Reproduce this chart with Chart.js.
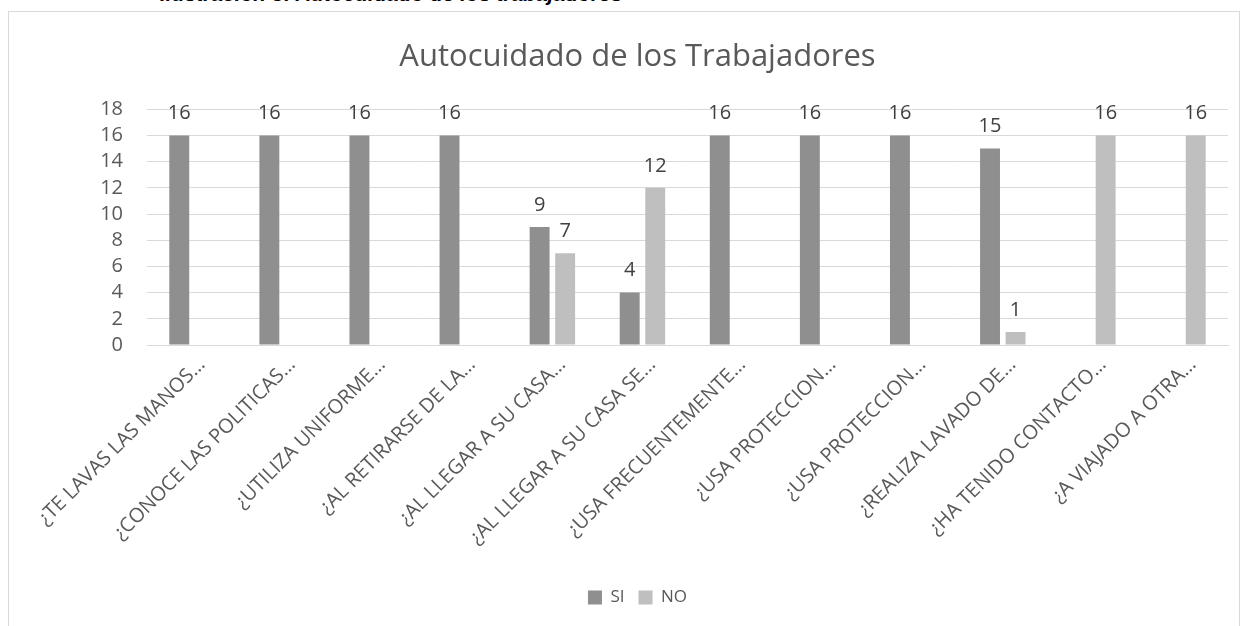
<!DOCTYPE html>
<html>
<head>
<meta charset="utf-8">
<script src="https://cdn.jsdelivr.net/npm/chart.js@4.4.0/dist/chart.umd.min.js"></script>
<style>
  html, body { margin: 0; padding: 0; background: #ffffff; width: 1246px; height: 626px; overflow: hidden; position: relative; }
  #caption { position: absolute; left: 160px; top: -18px; font-family: "Liberation Sans", Arial, sans-serif; font-weight: bold; font-style: italic; font-size: 21px; color: #000; white-space: nowrap; }
  #box { position: absolute; left: 8px; top: 11px; width: 1232px; height: 640px; border: 1px solid #d9d9d9; box-sizing: border-box; background: #fff; }
  #wrap { position: absolute; left: 0; top: 0; width: 1230px; height: 614px; }
</style>
</head>
<body>
<div id="caption">Ilustración 3: Autocuidado de los trabajadores</div>
<div id="box"><div id="wrap"><canvas id="c"></canvas></div></div>
<script>
const chartTitle = "Autocuidado de los Trabajadores";
const categories = [
  "¿TE LAVAS LAS MANOS…",
  "¿CONOCE LAS POLITICAS…",
  "¿UTILIZA UNIFORME…",
  "¿AL RETIRARSE DE LA…",
  "¿AL LLEGAR A SU CASA…",
  "¿AL LLEGAR A SU CASA SE…",
  "¿USA FRECUENTEMENTE…",
  "¿USA PROTECCION…",
  "¿USA PROTECCION…",
  "¿REALIZA LAVADO DE…",
  "¿HA TENIDO CONTACTO…",
  "¿A VIAJADO A OTRA…"
];
const seriesNames = ["SI", "NO"];
const siValues = [16, 16, 16, 16, 9, 4, 16, 16, 16, 15, null, null];
const noValues = [null, null, null, null, 7, 12, null, null, null, 1, 16, 16];
const yTicks = [0, 2, 4, 6, 8, 10, 12, 14, 16, 18];

const valueLabels = {
  id: 'valueLabels',
  afterDatasetsDraw(chart) {
    const ctx = chart.ctx;
    ctx.save();
    ctx.font = '20px "Open Sans", sans-serif';
    ctx.fillStyle = '#404040';
    ctx.textAlign = 'center';
    ctx.textBaseline = 'bottom';
    chart.data.datasets.forEach((ds, i) => {
      const meta = chart.getDatasetMeta(i);
      meta.data.forEach((el, j) => {
        const v = ds.data[j];
        if (v === null || v === undefined) return;
        ctx.fillText(String(v), el.x, el.y - 12);
      });
    });
    ctx.restore();
  }
};

new Chart(document.getElementById('c'), {
  type: 'bar',
  data: {
    labels: categories,
    datasets: [
      { label: seriesNames[0], data: siValues, backgroundColor: '#8f8f8f' },
      { label: seriesNames[1], data: noValues, backgroundColor: '#bfbfbf' }
    ]
  },
  options: {
    responsive: true,
    maintainAspectRatio: false,
    animation: false,
    categoryPercentage: 0.567,
    barPercentage: 0.78,
    layout: { padding: { left: 38, right: 11, top: 0, bottom: 10 } },
    plugins: {
      title: {
        display: true, text: chartTitle, color: '#595959',
        font: { family: '"Open Sans", sans-serif', size: 31, weight: 'normal' },
        padding: { top: 27, bottom: 33 }
      },
      legend: {
        position: 'bottom',
        labels: {
          color: '#595959', boxWidth: 14, boxHeight: 14, padding: 14,
          font: { family: '"Open Sans", sans-serif', size: 17 }
        }
      },
      tooltip: { enabled: false }
    },
    scales: {
      x: {
        grid: { display: false },
        border: { color: '#d9d9d9', width: 1 },
        afterFit(scale) { scale.paddingLeft = 100; scale.paddingRight = 0; scale.height = 230; },
        ticks: {
          color: '#595959', maxRotation: 45, minRotation: 45, autoSkip: false,
          labelOffset: 10, padding: 0,
          font: { family: '"Open Sans", sans-serif', size: 20 }
        }
      },
      y: {
        min: 0, max: 18,
        afterBuildTicks(axis) { axis.ticks = yTicks.map(v => ({ value: v })); },
        afterFit(scale) { scale.width = 100; },
        grid: { color: '#d9d9d9', lineWidth: 1, drawTicks: false },
        border: { display: false },
        ticks: {
          color: '#595959', padding: 24, autoSkip: false,
          font: { family: '"Open Sans", sans-serif', size: 20 }
        }
      }
    }
  },
  plugins: [valueLabels]
});
</script>
</body>
</html>
